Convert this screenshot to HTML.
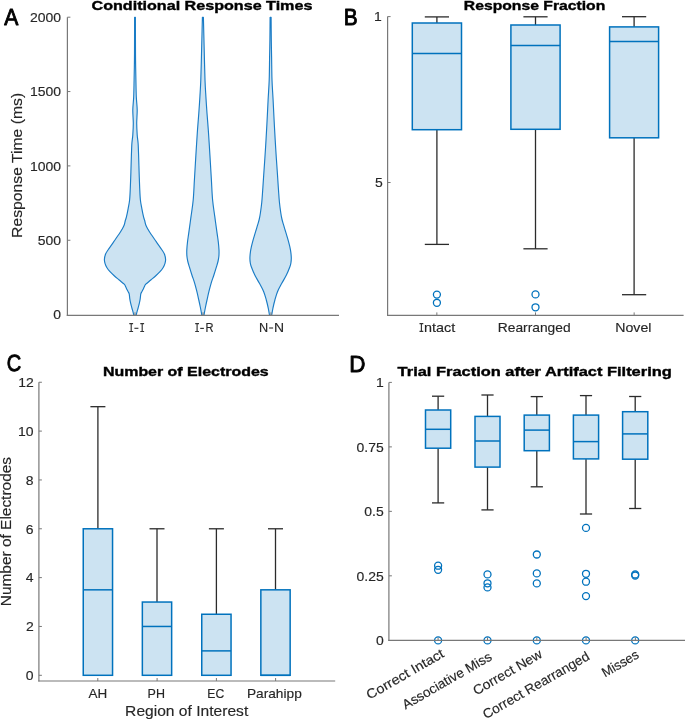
<!DOCTYPE html>
<html><head><meta charset="utf-8"><style>
html,body{margin:0;padding:0;background:#fff;}
.wrap{position:relative;width:685px;height:719px;overflow:hidden;}
svg{display:block;position:absolute;left:0;top:0;}
svg.t{will-change:transform;}
text{font-family:"Liberation Sans",sans-serif;}
</style></head><body><div class="wrap">
<svg width="685" height="719" viewBox="0 0 685 719">
<rect width="685" height="719" fill="#fff"/>
<path d="M135.40,17.20 C135.41,21.00 135.42,32.87 135.45,40.00 C135.47,47.13 135.48,53.33 135.55,60.00 C135.62,66.67 135.78,73.88 135.90,80.00 C136.03,86.12 136.08,91.70 136.30,96.70 C136.52,101.70 137.13,105.57 137.20,110.00 C137.27,114.43 136.70,119.13 136.70,123.30 C136.70,127.47 136.97,131.67 137.20,135.00 C137.43,138.33 137.87,139.97 138.10,143.30 C138.33,146.63 138.43,150.27 138.60,155.00 C138.77,159.73 138.92,166.15 139.10,171.70 C139.28,177.25 139.48,183.58 139.70,188.30 C139.92,193.02 140.05,196.67 140.40,200.00 C140.75,203.33 141.28,205.52 141.80,208.30 C142.32,211.08 143.00,214.58 143.50,216.70 C144.00,218.82 144.42,219.62 144.80,221.00 C145.18,222.38 145.28,223.63 145.80,225.00 C146.32,226.37 147.13,227.82 147.90,229.20 C148.67,230.58 149.02,231.22 150.40,233.30 C151.78,235.38 154.27,238.92 156.20,241.70 C158.13,244.48 160.62,247.92 162.00,250.00 C163.38,252.08 163.90,252.62 164.50,254.20 C165.10,255.78 165.52,257.98 165.60,259.50 C165.68,261.02 165.40,261.97 165.00,263.30 C164.60,264.63 164.03,266.10 163.20,267.50 C162.37,268.90 161.23,270.32 160.00,271.70 C158.77,273.08 157.33,274.42 155.80,275.80 C154.27,277.18 152.47,278.60 150.80,280.00 C149.13,281.40 146.90,283.03 145.80,284.20 C144.70,285.37 144.67,286.10 144.20,287.00 C143.73,287.90 143.42,288.78 143.00,289.60 C142.58,290.42 142.07,291.13 141.70,291.90 C141.32,292.67 141.00,293.05 140.75,294.20 C140.50,295.35 140.44,297.27 140.20,298.80 C139.96,300.33 139.65,301.87 139.30,303.40 C138.95,304.93 138.52,306.47 138.10,308.00 C137.68,309.53 137.12,311.38 136.80,312.60 C136.48,313.82 136.30,314.85 136.20,315.30 L133.80,315.30 C133.70,314.85 133.52,313.82 133.20,312.60 C132.88,311.38 132.32,309.53 131.90,308.00 C131.48,306.47 131.05,304.93 130.70,303.40 C130.35,301.87 130.04,300.33 129.80,298.80 C129.56,297.27 129.50,295.35 129.25,294.20 C129.00,293.05 128.68,292.67 128.30,291.90 C127.93,291.13 127.42,290.42 127.00,289.60 C126.58,288.78 126.27,287.90 125.80,287.00 C125.33,286.10 125.30,285.37 124.20,284.20 C123.10,283.03 120.87,281.40 119.20,280.00 C117.53,278.60 115.73,277.18 114.20,275.80 C112.67,274.42 111.23,273.08 110.00,271.70 C108.77,270.32 107.63,268.90 106.80,267.50 C105.97,266.10 105.40,264.63 105.00,263.30 C104.60,261.97 104.32,261.02 104.40,259.50 C104.48,257.98 104.90,255.78 105.50,254.20 C106.10,252.62 106.62,252.08 108.00,250.00 C109.38,247.92 111.87,244.48 113.80,241.70 C115.73,238.92 118.22,235.38 119.60,233.30 C120.98,231.22 121.33,230.58 122.10,229.20 C122.87,227.82 123.68,226.37 124.20,225.00 C124.72,223.63 124.82,222.38 125.20,221.00 C125.58,219.62 126.00,218.82 126.50,216.70 C127.00,214.58 127.68,211.08 128.20,208.30 C128.72,205.52 129.25,203.33 129.60,200.00 C129.95,196.67 130.08,193.02 130.30,188.30 C130.52,183.58 130.72,177.25 130.90,171.70 C131.08,166.15 131.23,159.73 131.40,155.00 C131.57,150.27 131.67,146.63 131.90,143.30 C132.13,139.97 132.57,138.33 132.80,135.00 C133.03,131.67 133.30,127.47 133.30,123.30 C133.30,119.13 132.73,114.43 132.80,110.00 C132.87,105.57 133.48,101.70 133.70,96.70 C133.92,91.70 133.97,86.12 134.10,80.00 C134.22,73.88 134.38,66.67 134.45,60.00 C134.52,53.33 134.53,47.13 134.55,40.00 C134.58,32.87 134.59,21.00 134.60,17.20Z" fill="#cce3f2" stroke="#1a7cc6" stroke-width="1.15" stroke-linejoin="round"/>
<path d="M203.40,17.20 C203.45,19.33 203.57,24.53 203.70,30.00 C203.83,35.47 203.98,41.67 204.20,50.00 C204.42,58.33 204.72,72.22 205.00,80.00 C205.28,87.78 205.57,91.15 205.90,96.70 C206.23,102.25 206.60,107.75 207.00,113.30 C207.40,118.85 207.90,124.43 208.30,130.00 C208.70,135.57 209.05,141.15 209.40,146.70 C209.75,152.25 210.07,157.75 210.40,163.30 C210.73,168.85 211.03,173.88 211.40,180.00 C211.77,186.12 212.03,193.88 212.60,200.00 C213.17,206.12 214.05,211.15 214.80,216.70 C215.55,222.25 216.52,229.08 217.10,233.30 C217.68,237.52 217.98,239.22 218.30,242.00 C218.62,244.78 218.90,247.67 219.00,250.00 C219.10,252.33 219.05,254.17 218.90,256.00 C218.75,257.83 218.50,259.22 218.10,261.00 C217.70,262.78 217.20,264.37 216.50,266.70 C215.80,269.03 214.80,272.23 213.90,275.00 C213.00,277.77 211.93,280.52 211.10,283.30 C210.27,286.08 209.58,288.92 208.90,291.70 C208.22,294.48 207.57,297.45 207.00,300.00 C206.43,302.55 205.95,304.78 205.50,307.00 C205.05,309.22 204.55,311.92 204.30,313.30 C204.05,314.68 204.05,314.97 204.00,315.30 L201.80,315.30 C201.75,314.97 201.75,314.68 201.50,313.30 C201.25,311.92 200.75,309.22 200.30,307.00 C199.85,304.78 199.37,302.55 198.80,300.00 C198.23,297.45 197.58,294.48 196.90,291.70 C196.22,288.92 195.53,286.08 194.70,283.30 C193.87,280.52 192.80,277.77 191.90,275.00 C191.00,272.23 190.00,269.03 189.30,266.70 C188.60,264.37 188.10,262.78 187.70,261.00 C187.30,259.22 187.05,257.83 186.90,256.00 C186.75,254.17 186.70,252.33 186.80,250.00 C186.90,247.67 187.18,244.78 187.50,242.00 C187.82,239.22 188.12,237.52 188.70,233.30 C189.28,229.08 190.25,222.25 191.00,216.70 C191.75,211.15 192.63,206.12 193.20,200.00 C193.77,193.88 194.03,186.12 194.40,180.00 C194.77,173.88 195.07,168.85 195.40,163.30 C195.73,157.75 196.05,152.25 196.40,146.70 C196.75,141.15 197.10,135.57 197.50,130.00 C197.90,124.43 198.40,118.85 198.80,113.30 C199.20,107.75 199.57,102.25 199.90,96.70 C200.23,91.15 200.52,87.78 200.80,80.00 C201.08,72.22 201.38,58.33 201.60,50.00 C201.82,41.67 201.97,35.47 202.10,30.00 C202.23,24.53 202.35,19.33 202.40,17.20Z" fill="#cce3f2" stroke="#1a7cc6" stroke-width="1.15" stroke-linejoin="round"/>
<path d="M271.10,17.20 C271.13,21.00 271.22,33.37 271.30,40.00 C271.38,46.63 271.48,50.33 271.60,57.00 C271.72,63.67 271.75,72.83 272.00,80.00 C272.25,87.17 272.71,92.50 273.10,100.00 C273.49,107.50 273.90,116.67 274.35,125.00 C274.80,133.33 275.28,141.67 275.80,150.00 C276.32,158.33 277.05,168.33 277.50,175.00 C277.95,181.67 278.18,185.50 278.50,190.00 C278.82,194.50 279.02,198.17 279.40,202.00 C279.78,205.83 280.38,210.17 280.80,213.00 C281.22,215.83 281.47,217.10 281.90,219.00 C282.33,220.90 282.87,222.57 283.40,224.40 C283.93,226.23 284.53,228.13 285.10,230.00 C285.67,231.87 286.25,233.75 286.80,235.60 C287.35,237.45 287.90,239.25 288.40,241.10 C288.90,242.95 289.40,244.85 289.80,246.70 C290.20,248.55 290.55,250.32 290.80,252.20 C291.05,254.08 291.28,256.20 291.30,258.00 C291.32,259.80 291.13,261.55 290.90,263.00 C290.67,264.45 290.65,264.70 289.90,266.70 C289.15,268.70 287.75,272.23 286.40,275.00 C285.05,277.77 283.28,280.52 281.80,283.30 C280.32,286.08 278.65,288.92 277.50,291.70 C276.35,294.48 275.67,297.23 274.90,300.00 C274.13,302.77 273.43,305.75 272.90,308.30 C272.37,310.85 271.90,314.13 271.70,315.30 L269.50,315.30 C269.30,314.13 268.83,310.85 268.30,308.30 C267.77,305.75 267.07,302.77 266.30,300.00 C265.53,297.23 264.85,294.48 263.70,291.70 C262.55,288.92 260.88,286.08 259.40,283.30 C257.92,280.52 256.15,277.77 254.80,275.00 C253.45,272.23 252.05,268.70 251.30,266.70 C250.55,264.70 250.53,264.45 250.30,263.00 C250.07,261.55 249.88,259.80 249.90,258.00 C249.92,256.20 250.15,254.08 250.40,252.20 C250.65,250.32 251.00,248.55 251.40,246.70 C251.80,244.85 252.30,242.95 252.80,241.10 C253.30,239.25 253.85,237.45 254.40,235.60 C254.95,233.75 255.53,231.87 256.10,230.00 C256.67,228.13 257.27,226.23 257.80,224.40 C258.33,222.57 258.87,220.90 259.30,219.00 C259.73,217.10 259.98,215.83 260.40,213.00 C260.82,210.17 261.42,205.83 261.80,202.00 C262.18,198.17 262.38,194.50 262.70,190.00 C263.02,185.50 263.25,181.67 263.70,175.00 C264.15,168.33 264.88,158.33 265.40,150.00 C265.93,141.67 266.40,133.33 266.85,125.00 C267.30,116.67 267.71,107.50 268.10,100.00 C268.49,92.50 268.95,87.17 269.20,80.00 C269.45,72.83 269.48,63.67 269.60,57.00 C269.72,50.33 269.82,46.63 269.90,40.00 C269.98,33.37 270.07,21.00 270.10,17.20Z" fill="#cce3f2" stroke="#1a7cc6" stroke-width="1.15" stroke-linejoin="round"/>
<line x1="67.40" y1="17.20" x2="67.40" y2="315.90" stroke="#787878" stroke-width="1.2"/>
<line x1="66.80" y1="315.30" x2="339.00" y2="315.30" stroke="#787878" stroke-width="1.2"/>
<line x1="67.40" y1="240.25" x2="70.40" y2="240.25" stroke="#787878" stroke-width="1.0"/>
<line x1="67.40" y1="165.90" x2="70.40" y2="165.90" stroke="#787878" stroke-width="1.0"/>
<line x1="67.40" y1="91.55" x2="70.40" y2="91.55" stroke="#787878" stroke-width="1.0"/>
<line x1="67.40" y1="17.20" x2="70.40" y2="17.20" stroke="#787878" stroke-width="1.0"/>
<line x1="135.00" y1="315.30" x2="135.00" y2="312.30" stroke="#787878" stroke-width="1.0"/>
<line x1="203.00" y1="315.30" x2="203.00" y2="312.30" stroke="#787878" stroke-width="1.0"/>
<line x1="271.00" y1="315.30" x2="271.00" y2="312.30" stroke="#787878" stroke-width="1.0"/>
<path d="M129.30,323.60H133.10M129.30,331.50H133.10M131.20,323.10V332.00" stroke="#333" stroke-width="1.15" fill="none"/>
<path d="M134.40,328.30H138.40" stroke="#333" stroke-width="1.15" fill="none"/>
<path d="M140.30,323.60H144.10M140.30,331.50H144.10M142.20,323.10V332.00" stroke="#333" stroke-width="1.15" fill="none"/>
<path d="M195.20,323.60H199.00M195.20,331.50H199.00M197.10,323.10V332.00" stroke="#333" stroke-width="1.15" fill="none"/>
<path d="M200.20,328.40H203.90" stroke="#333" stroke-width="1.15" fill="none"/>
<path d="M269.10,328.00H273.10" stroke="#333" stroke-width="1.15" fill="none"/>
<line x1="436.90" y1="16.90" x2="436.90" y2="23.00" stroke="#2b2b2b" stroke-width="1.3"/>
<line x1="424.80" y1="16.90" x2="449.00" y2="16.90" stroke="#2b2b2b" stroke-width="1.3"/>
<line x1="436.90" y1="129.70" x2="436.90" y2="244.40" stroke="#2b2b2b" stroke-width="1.3"/>
<line x1="424.80" y1="244.40" x2="449.00" y2="244.40" stroke="#2b2b2b" stroke-width="1.3"/>
<rect x="412.30" y="23.00" width="49.20" height="106.70" fill="#cce3f2" stroke="#0072BD" stroke-width="1.5"/>
<line x1="412.30" y1="53.40" x2="461.50" y2="53.40" stroke="#0072BD" stroke-width="1.5"/>
<circle cx="436.90" cy="294.60" r="3.5" fill="none" stroke="#0072BD" stroke-width="1.3"/>
<circle cx="436.90" cy="302.80" r="3.5" fill="none" stroke="#0072BD" stroke-width="1.3"/>
<line x1="535.50" y1="16.80" x2="535.50" y2="25.00" stroke="#2b2b2b" stroke-width="1.3"/>
<line x1="523.40" y1="16.80" x2="547.60" y2="16.80" stroke="#2b2b2b" stroke-width="1.3"/>
<line x1="535.50" y1="129.30" x2="535.50" y2="248.80" stroke="#2b2b2b" stroke-width="1.3"/>
<line x1="523.40" y1="248.80" x2="547.60" y2="248.80" stroke="#2b2b2b" stroke-width="1.3"/>
<rect x="510.90" y="25.00" width="49.20" height="104.30" fill="#cce3f2" stroke="#0072BD" stroke-width="1.5"/>
<line x1="510.90" y1="45.60" x2="560.10" y2="45.60" stroke="#0072BD" stroke-width="1.5"/>
<circle cx="535.50" cy="294.40" r="3.5" fill="none" stroke="#0072BD" stroke-width="1.3"/>
<circle cx="535.50" cy="307.30" r="3.5" fill="none" stroke="#0072BD" stroke-width="1.3"/>
<line x1="634.10" y1="16.70" x2="634.10" y2="26.90" stroke="#2b2b2b" stroke-width="1.3"/>
<line x1="622.00" y1="16.70" x2="646.20" y2="16.70" stroke="#2b2b2b" stroke-width="1.3"/>
<line x1="634.10" y1="137.80" x2="634.10" y2="294.70" stroke="#2b2b2b" stroke-width="1.3"/>
<line x1="622.00" y1="294.70" x2="646.20" y2="294.70" stroke="#2b2b2b" stroke-width="1.3"/>
<rect x="609.60" y="26.90" width="49.00" height="110.90" fill="#cce3f2" stroke="#0072BD" stroke-width="1.5"/>
<line x1="609.60" y1="41.50" x2="658.60" y2="41.50" stroke="#0072BD" stroke-width="1.5"/>
<line x1="387.60" y1="16.60" x2="387.60" y2="316.00" stroke="#787878" stroke-width="1.2"/>
<line x1="387.00" y1="315.40" x2="683.60" y2="315.40" stroke="#787878" stroke-width="1.2"/>
<line x1="387.60" y1="16.60" x2="390.60" y2="16.60" stroke="#787878" stroke-width="1.0"/>
<line x1="387.60" y1="182.50" x2="390.60" y2="182.50" stroke="#787878" stroke-width="1.0"/>
<line x1="436.85" y1="315.40" x2="436.85" y2="312.40" stroke="#787878" stroke-width="1.0"/>
<line x1="535.50" y1="315.40" x2="535.50" y2="312.40" stroke="#787878" stroke-width="1.0"/>
<line x1="634.15" y1="315.40" x2="634.15" y2="312.40" stroke="#787878" stroke-width="1.0"/>
<path d="M419.50,323.60H423.30M419.50,331.40H423.30M421.40,323.10V331.90" stroke="#333" stroke-width="1.15" fill="none"/>
<line x1="97.90" y1="406.68" x2="97.90" y2="528.78" stroke="#2b2b2b" stroke-width="1.3"/>
<line x1="90.40" y1="406.68" x2="105.40" y2="406.68" stroke="#2b2b2b" stroke-width="1.3"/>
<rect x="83.25" y="528.78" width="29.30" height="146.52" fill="#cce3f2" stroke="#0072BD" stroke-width="1.5"/>
<line x1="83.25" y1="589.83" x2="112.55" y2="589.83" stroke="#0072BD" stroke-width="1.5"/>
<line x1="157.00" y1="528.78" x2="157.00" y2="602.04" stroke="#2b2b2b" stroke-width="1.3"/>
<line x1="149.50" y1="528.78" x2="164.50" y2="528.78" stroke="#2b2b2b" stroke-width="1.3"/>
<rect x="142.35" y="602.04" width="29.30" height="73.26" fill="#cce3f2" stroke="#0072BD" stroke-width="1.5"/>
<line x1="142.35" y1="626.46" x2="171.65" y2="626.46" stroke="#0072BD" stroke-width="1.5"/>
<line x1="216.40" y1="528.78" x2="216.40" y2="614.25" stroke="#2b2b2b" stroke-width="1.3"/>
<line x1="208.90" y1="528.78" x2="223.90" y2="528.78" stroke="#2b2b2b" stroke-width="1.3"/>
<rect x="201.75" y="614.25" width="29.30" height="61.05" fill="#cce3f2" stroke="#0072BD" stroke-width="1.5"/>
<line x1="201.75" y1="650.88" x2="231.05" y2="650.88" stroke="#0072BD" stroke-width="1.5"/>
<line x1="275.50" y1="528.78" x2="275.50" y2="589.83" stroke="#2b2b2b" stroke-width="1.3"/>
<line x1="268.00" y1="528.78" x2="283.00" y2="528.78" stroke="#2b2b2b" stroke-width="1.3"/>
<rect x="260.85" y="589.83" width="29.30" height="85.47" fill="#cce3f2" stroke="#0072BD" stroke-width="1.5"/>
<line x1="260.85" y1="675.30" x2="290.15" y2="675.30" stroke="#0072BD" stroke-width="1.5"/>
<line x1="38.90" y1="382.30" x2="38.90" y2="681.60" stroke="#787878" stroke-width="1.2"/>
<line x1="38.30" y1="681.00" x2="335.20" y2="681.00" stroke="#787878" stroke-width="1.2"/>
<line x1="38.90" y1="675.30" x2="41.90" y2="675.30" stroke="#787878" stroke-width="1.0"/>
<line x1="38.90" y1="626.46" x2="41.90" y2="626.46" stroke="#787878" stroke-width="1.0"/>
<line x1="38.90" y1="577.62" x2="41.90" y2="577.62" stroke="#787878" stroke-width="1.0"/>
<line x1="38.90" y1="528.78" x2="41.90" y2="528.78" stroke="#787878" stroke-width="1.0"/>
<line x1="38.90" y1="479.94" x2="41.90" y2="479.94" stroke="#787878" stroke-width="1.0"/>
<line x1="38.90" y1="431.10" x2="41.90" y2="431.10" stroke="#787878" stroke-width="1.0"/>
<line x1="38.90" y1="382.26" x2="41.90" y2="382.26" stroke="#787878" stroke-width="1.0"/>
<line x1="97.80" y1="681.00" x2="97.80" y2="678.00" stroke="#787878" stroke-width="1.0"/>
<line x1="157.10" y1="681.00" x2="157.10" y2="678.00" stroke="#787878" stroke-width="1.0"/>
<line x1="216.40" y1="681.00" x2="216.40" y2="678.00" stroke="#787878" stroke-width="1.0"/>
<line x1="275.60" y1="681.00" x2="275.60" y2="678.00" stroke="#787878" stroke-width="1.0"/>
<line x1="438.10" y1="396.20" x2="438.10" y2="410.00" stroke="#2b2b2b" stroke-width="1.3"/>
<line x1="432.00" y1="396.20" x2="444.20" y2="396.20" stroke="#2b2b2b" stroke-width="1.3"/>
<line x1="438.10" y1="448.20" x2="438.10" y2="502.90" stroke="#2b2b2b" stroke-width="1.3"/>
<line x1="432.00" y1="502.90" x2="444.20" y2="502.90" stroke="#2b2b2b" stroke-width="1.3"/>
<rect x="425.50" y="410.00" width="25.20" height="38.20" fill="#cce3f2" stroke="#0072BD" stroke-width="1.5"/>
<line x1="425.50" y1="429.30" x2="450.70" y2="429.30" stroke="#0072BD" stroke-width="1.5"/>
<circle cx="438.10" cy="565.70" r="3.5" fill="none" stroke="#0072BD" stroke-width="1.3"/>
<circle cx="438.10" cy="569.80" r="3.5" fill="none" stroke="#0072BD" stroke-width="1.3"/>
<circle cx="438.10" cy="640.40" r="3.5" fill="none" stroke="#0072BD" stroke-width="1.3"/>
<line x1="487.50" y1="395.00" x2="487.50" y2="416.40" stroke="#2b2b2b" stroke-width="1.3"/>
<line x1="481.40" y1="395.00" x2="493.60" y2="395.00" stroke="#2b2b2b" stroke-width="1.3"/>
<line x1="487.50" y1="467.10" x2="487.50" y2="509.90" stroke="#2b2b2b" stroke-width="1.3"/>
<line x1="481.40" y1="509.90" x2="493.60" y2="509.90" stroke="#2b2b2b" stroke-width="1.3"/>
<rect x="475.00" y="416.40" width="25.00" height="50.70" fill="#cce3f2" stroke="#0072BD" stroke-width="1.5"/>
<line x1="475.00" y1="441.00" x2="500.00" y2="441.00" stroke="#0072BD" stroke-width="1.5"/>
<circle cx="487.50" cy="574.40" r="3.5" fill="none" stroke="#0072BD" stroke-width="1.3"/>
<circle cx="487.50" cy="583.30" r="3.5" fill="none" stroke="#0072BD" stroke-width="1.3"/>
<circle cx="487.50" cy="587.40" r="3.5" fill="none" stroke="#0072BD" stroke-width="1.3"/>
<circle cx="487.50" cy="640.40" r="3.5" fill="none" stroke="#0072BD" stroke-width="1.3"/>
<line x1="536.80" y1="396.60" x2="536.80" y2="415.10" stroke="#2b2b2b" stroke-width="1.3"/>
<line x1="530.70" y1="396.60" x2="542.90" y2="396.60" stroke="#2b2b2b" stroke-width="1.3"/>
<line x1="536.80" y1="450.70" x2="536.80" y2="486.80" stroke="#2b2b2b" stroke-width="1.3"/>
<line x1="530.70" y1="486.80" x2="542.90" y2="486.80" stroke="#2b2b2b" stroke-width="1.3"/>
<rect x="524.20" y="415.10" width="25.20" height="35.60" fill="#cce3f2" stroke="#0072BD" stroke-width="1.5"/>
<line x1="524.20" y1="430.10" x2="549.40" y2="430.10" stroke="#0072BD" stroke-width="1.5"/>
<circle cx="536.80" cy="554.50" r="3.5" fill="none" stroke="#0072BD" stroke-width="1.3"/>
<circle cx="536.80" cy="573.40" r="3.5" fill="none" stroke="#0072BD" stroke-width="1.3"/>
<circle cx="536.80" cy="583.40" r="3.5" fill="none" stroke="#0072BD" stroke-width="1.3"/>
<circle cx="536.80" cy="640.40" r="3.5" fill="none" stroke="#0072BD" stroke-width="1.3"/>
<line x1="586.00" y1="395.60" x2="586.00" y2="415.10" stroke="#2b2b2b" stroke-width="1.3"/>
<line x1="579.90" y1="395.60" x2="592.10" y2="395.60" stroke="#2b2b2b" stroke-width="1.3"/>
<line x1="586.00" y1="458.90" x2="586.00" y2="514.00" stroke="#2b2b2b" stroke-width="1.3"/>
<line x1="579.90" y1="514.00" x2="592.10" y2="514.00" stroke="#2b2b2b" stroke-width="1.3"/>
<rect x="573.40" y="415.10" width="25.20" height="43.80" fill="#cce3f2" stroke="#0072BD" stroke-width="1.5"/>
<line x1="573.40" y1="441.60" x2="598.60" y2="441.60" stroke="#0072BD" stroke-width="1.5"/>
<circle cx="586.00" cy="527.90" r="3.5" fill="none" stroke="#0072BD" stroke-width="1.3"/>
<circle cx="586.00" cy="573.80" r="3.5" fill="none" stroke="#0072BD" stroke-width="1.3"/>
<circle cx="586.00" cy="581.70" r="3.5" fill="none" stroke="#0072BD" stroke-width="1.3"/>
<circle cx="586.00" cy="596.10" r="3.5" fill="none" stroke="#0072BD" stroke-width="1.3"/>
<circle cx="586.00" cy="640.40" r="3.5" fill="none" stroke="#0072BD" stroke-width="1.3"/>
<line x1="635.20" y1="396.50" x2="635.20" y2="411.70" stroke="#2b2b2b" stroke-width="1.3"/>
<line x1="629.10" y1="396.50" x2="641.30" y2="396.50" stroke="#2b2b2b" stroke-width="1.3"/>
<line x1="635.20" y1="459.20" x2="635.20" y2="508.50" stroke="#2b2b2b" stroke-width="1.3"/>
<line x1="629.10" y1="508.50" x2="641.30" y2="508.50" stroke="#2b2b2b" stroke-width="1.3"/>
<rect x="622.60" y="411.70" width="25.20" height="47.50" fill="#cce3f2" stroke="#0072BD" stroke-width="1.5"/>
<line x1="622.60" y1="433.90" x2="647.80" y2="433.90" stroke="#0072BD" stroke-width="1.5"/>
<circle cx="635.20" cy="574.40" r="3.5" fill="none" stroke="#0072BD" stroke-width="1.3"/>
<circle cx="635.20" cy="575.50" r="3.5" fill="none" stroke="#0072BD" stroke-width="1.3"/>
<circle cx="635.20" cy="640.40" r="3.5" fill="none" stroke="#0072BD" stroke-width="1.3"/>
<line x1="388.90" y1="382.40" x2="388.90" y2="641.00" stroke="#787878" stroke-width="1.2"/>
<line x1="388.30" y1="640.40" x2="685.00" y2="640.40" stroke="#787878" stroke-width="1.2"/>
<line x1="388.90" y1="575.82" x2="391.90" y2="575.82" stroke="#787878" stroke-width="1.0"/>
<line x1="388.90" y1="511.35" x2="391.90" y2="511.35" stroke="#787878" stroke-width="1.0"/>
<line x1="388.90" y1="446.88" x2="391.90" y2="446.88" stroke="#787878" stroke-width="1.0"/>
<line x1="388.90" y1="382.40" x2="391.90" y2="382.40" stroke="#787878" stroke-width="1.0"/>
<line x1="438.10" y1="640.40" x2="438.10" y2="637.40" stroke="#787878" stroke-width="1.0"/>
<line x1="487.50" y1="640.40" x2="487.50" y2="637.40" stroke="#787878" stroke-width="1.0"/>
<line x1="536.80" y1="640.40" x2="536.80" y2="637.40" stroke="#787878" stroke-width="1.0"/>
<line x1="586.10" y1="640.40" x2="586.10" y2="637.40" stroke="#787878" stroke-width="1.0"/>
<line x1="635.40" y1="640.40" x2="635.40" y2="637.40" stroke="#787878" stroke-width="1.0"/>
</svg>
<svg class="t" width="685" height="719" viewBox="0 0 685 719">
<text transform="translate(4.31,25.00) scale(0.9063,1)" font-size="23.3" fill="#000" stroke="#000" stroke-width="0.9" stroke-linejoin="round" text-rendering="geometricPrecision">A</text>
<text transform="translate(91.54,10.20) scale(1.1851,1)" font-size="13.6" font-weight="bold" fill="#000" stroke="#000" stroke-width="0.4">Conditional Response Times</text>
<text transform="translate(53.36,319.36) scale(1.0200,1)" font-size="13.7" font-weight="normal" fill="#262626" stroke="#262626" stroke-width="0.15">0</text>
<text transform="translate(37.82,245.01) scale(1.0200,1)" font-size="13.7" font-weight="normal" fill="#262626" stroke="#262626" stroke-width="0.15">500</text>
<text transform="translate(30.05,170.66) scale(1.0200,1)" font-size="13.7" font-weight="normal" fill="#262626" stroke="#262626" stroke-width="0.15">1000</text>
<text transform="translate(30.05,96.31) scale(1.0200,1)" font-size="13.7" font-weight="normal" fill="#262626" stroke="#262626" stroke-width="0.15">1500</text>
<text transform="translate(30.05,21.96) scale(1.0200,1)" font-size="13.7" font-weight="normal" fill="#262626" stroke="#262626" stroke-width="0.15">2000</text>
<text transform="translate(205.49,332.00) scale(0.8547,1)" font-size="13" font-weight="normal" fill="#262626" stroke="#262626" stroke-width="0.15">R</text>
<text transform="translate(259.06,331.90) scale(0.9770,1)" font-size="13" font-weight="normal" fill="#262626" stroke="#262626" stroke-width="0.15">N</text>
<text transform="translate(274.06,331.90) scale(1.0733,1)" font-size="13" font-weight="normal" fill="#262626" stroke="#262626" stroke-width="0.15">N</text>
<text transform="translate(21.90,237.89) rotate(-90) scale(1.0701,1)" font-size="14.7" fill="#262626" stroke="#262626" stroke-width="0.15">Response Time (ms)</text>
<text transform="translate(343.64,25.00) scale(0.8938,1)" font-size="23.3" fill="#000" stroke="#000" stroke-width="0.9" stroke-linejoin="round" text-rendering="geometricPrecision">B</text>
<text transform="translate(463.86,10.00) scale(1.1559,1)" font-size="13.6" font-weight="bold" fill="#000" stroke="#000" stroke-width="0.4">Response Fraction</text>
<text transform="translate(373.90,21.36) scale(1.0200,1)" font-size="13.7" font-weight="normal" fill="#262626" stroke="#262626" stroke-width="0.15">1</text>
<text transform="translate(375.10,187.26) scale(1.0200,1)" font-size="13.7" font-weight="normal" fill="#262626" stroke="#262626" stroke-width="0.15">5</text>
<text transform="translate(424.05,331.90) scale(1.1052,1)" font-size="13" font-weight="normal" fill="#262626" stroke="#262626" stroke-width="0.15">ntact</text>
<text transform="translate(497.87,331.80) scale(1.0606,1)" font-size="13" font-weight="normal" fill="#262626" stroke="#262626" stroke-width="0.15">Rearranged</text>
<text transform="translate(615.24,331.80) scale(1.0893,1)" font-size="13" font-weight="normal" fill="#262626" stroke="#262626" stroke-width="0.15">Novel</text>
<text transform="translate(6.65,371.00) scale(0.8584,1)" font-size="23.3" fill="#000" stroke="#000" stroke-width="0.9" stroke-linejoin="round" text-rendering="geometricPrecision">C</text>
<text transform="translate(102.95,376.00) scale(1.1732,1)" font-size="13.6" font-weight="bold" fill="#000" stroke="#000" stroke-width="0.4">Number of Electrodes</text>
<text transform="translate(25.76,680.06) scale(1.0200,1)" font-size="13.7" font-weight="normal" fill="#262626" stroke="#262626" stroke-width="0.15">0</text>
<text transform="translate(25.93,631.22) scale(1.0200,1)" font-size="13.7" font-weight="normal" fill="#262626" stroke="#262626" stroke-width="0.15">2</text>
<text transform="translate(25.64,582.38) scale(1.0200,1)" font-size="13.7" font-weight="normal" fill="#262626" stroke="#262626" stroke-width="0.15">4</text>
<text transform="translate(25.83,533.54) scale(1.0200,1)" font-size="13.7" font-weight="normal" fill="#262626" stroke="#262626" stroke-width="0.15">6</text>
<text transform="translate(25.83,484.70) scale(1.0200,1)" font-size="13.7" font-weight="normal" fill="#262626" stroke="#262626" stroke-width="0.15">8</text>
<text transform="translate(17.99,435.86) scale(1.0200,1)" font-size="13.7" font-weight="normal" fill="#262626" stroke="#262626" stroke-width="0.15">10</text>
<text transform="translate(18.16,387.02) scale(1.0200,1)" font-size="13.7" font-weight="normal" fill="#262626" stroke="#262626" stroke-width="0.15">12</text>
<text transform="translate(88.57,697.80) scale(1.0366,1)" font-size="13" font-weight="normal" fill="#262626" stroke="#262626" stroke-width="0.15">AH</text>
<text transform="translate(147.58,697.80) scale(0.9600,1)" font-size="13" font-weight="normal" fill="#262626" stroke="#262626" stroke-width="0.15">PH</text>
<text transform="translate(207.30,697.80) scale(0.9388,1)" font-size="13" font-weight="normal" fill="#262626" stroke="#262626" stroke-width="0.15">EC</text>
<text transform="translate(246.88,697.80) scale(1.0547,1)" font-size="13" font-weight="normal" fill="#262626" stroke="#262626" stroke-width="0.15">Parahipp</text>
<text transform="translate(125.12,716.00) scale(1.0771,1)" font-size="14.5" font-weight="normal" fill="#262626" stroke="#262626" stroke-width="0.15">Region of Interest</text>
<text transform="translate(11.25,606.27) rotate(-90) scale(1.0293,1)" font-size="15.0" fill="#262626" stroke="#262626" stroke-width="0.15">Number of Electrodes</text>
<text transform="translate(349.31,372.00) scale(0.9626,1)" font-size="23.3" fill="#000" stroke="#000" stroke-width="0.9" stroke-linejoin="round" text-rendering="geometricPrecision">D</text>
<text transform="translate(397.62,376.00) scale(1.2085,1)" font-size="13.6" font-weight="bold" fill="#000" stroke="#000" stroke-width="0.4">Trial Fraction after Artifact Filtering</text>
<text transform="translate(375.96,645.06) scale(1.0200,1)" font-size="13.7" font-weight="normal" fill="#262626" stroke="#262626" stroke-width="0.15">0</text>
<text transform="translate(356.58,580.58) scale(1.0200,1)" font-size="13.7" font-weight="normal" fill="#262626" stroke="#262626" stroke-width="0.15">0.25</text>
<text transform="translate(364.35,516.11) scale(1.0200,1)" font-size="13.7" font-weight="normal" fill="#262626" stroke="#262626" stroke-width="0.15">0.5</text>
<text transform="translate(356.58,451.63) scale(1.0200,1)" font-size="13.7" font-weight="normal" fill="#262626" stroke="#262626" stroke-width="0.15">0.75</text>
<text transform="translate(376.10,387.16) scale(1.0200,1)" font-size="13.7" font-weight="normal" fill="#262626" stroke="#262626" stroke-width="0.15">1</text>
<text transform="translate(444.95,656.35) rotate(-30) scale(1.0834,1)" font-size="13.4" fill="#262626" stroke="#262626" stroke-width="0.15" text-anchor="end">Correct Intact</text>
<text transform="translate(492.80,659.25) rotate(-30) scale(1.0182,1)" font-size="13.4" fill="#262626" stroke="#262626" stroke-width="0.15" text-anchor="end">Associative Miss</text>
<text transform="translate(543.25,656.75) rotate(-30) scale(1.0390,1)" font-size="13.4" fill="#262626" stroke="#262626" stroke-width="0.15" text-anchor="end">Correct New</text>
<text transform="translate(590.55,658.95) rotate(-30) scale(1.0209,1)" font-size="13.4" fill="#262626" stroke="#262626" stroke-width="0.15" text-anchor="end">Correct Rearranged</text>
<text transform="translate(639.95,657.30) rotate(-30) scale(0.9694,1)" font-size="13.4" fill="#262626" stroke="#262626" stroke-width="0.15" text-anchor="end">Misses</text>
</svg>
</div></body></html>
